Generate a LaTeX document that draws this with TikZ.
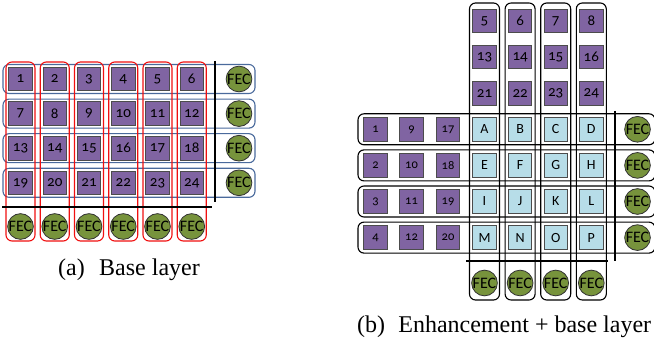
\documentclass[tikz,border=0pt]{standalone}
\usepackage{fontspec}
\setmainfont{Liberation Serif}
\newfontfamily\lblfont[Numbers=OldStyle]{Carlito}
\definecolor{pktpurple}{HTML}{8064A2}
\definecolor{pktaqua}{HTML}{B7DDE8}
\definecolor{fecgreen}{HTML}{77933C}
\definecolor{rowblue}{HTML}{4A6A9C}
\definecolor{colred}{HTML}{F01010}

\tikzset{
  pkt/.style={draw=black!70, line width=0.8pt, fill=pktpurple, minimum size=23.5pt,
              inner sep=0pt, font=\lblfont\fontsize{15}{15}\selectfont},
  pktsmall/.style={pkt, font=\lblfont\fontsize{12.5}{12.5}\selectfont},
  enh/.style={pkt, fill=pktaqua, font=\lblfont\fontsize{14}{14}\selectfont},
  fec/.style={circle, draw=black!80, line width=0.8pt, fill=fecgreen, minimum size=25pt,
              inner sep=0pt, font=\lblfont\fontsize{16}{16}\selectfont},
  rowframe/.style={draw=rowblue, line width=1.1pt, rounded corners=6pt, inner sep=0pt},
  colframe/.style={draw=colred, line width=1.1pt, rounded corners=6pt, inner sep=0pt},
  grpframe/.style={draw=black, line width=1.1pt, rounded corners=6pt, inner sep=0pt},
  sep/.style={line width=2pt},
  caption/.style={font=\fontsize{24}{24}\selectfont, inner sep=0pt}
}

\begin{document}
\begin{tikzpicture}[x=1pt,y=-1pt]
\useasboundingbox (0,0) rectangle (654,342);

% ---------------- base layer ----------------
% row FEC groups
\foreach \j in {0,...,3}
  \node[rowframe, minimum width=252pt, minimum height=29pt] (brow\j) at (129,{79+34.6*\j}) {};
% column FEC groups
\foreach \i in {0,...,5}
  \node[colframe, minimum width=29pt, minimum height=179pt] (bcol\i) at ({20.5+34.25*\i},151.5) {};
% source packets 1..24
\foreach \j in {0,...,3}
  \foreach \i in {0,...,5} {
    \pgfmathtruncatemacro{\n}{6*\j+\i+1}
    \node[pkt] (b\n) at ({20.5+34.25*\i},{79+34.6*\j}) {\n};
  }
% parity packets
\foreach \j in {0,...,3}
  \node[fec] (bfr\j) at (239,{79+34.6*\j}) {FEC};
\foreach \i in {0,...,5}
  \node[fec] (bfc\i) at ({20.5+34.25*\i},226.5) {FEC};
% separators
\coordinate (bvt) at (215,61);
\coordinate (bvb) at (215,202);
\coordinate (bhl) at (2,207);
\coordinate (bhr) at (212,207);
\draw[sep] (bvt) -- (bvb);
\draw[sep] (bhl) -- (bhr);

\node[caption, anchor=base west] (capa) at (58,276) {(a)\hspace{0.35em} Base layer};

% ---------------- enhancement + base layer ----------------
% column groups (enhancement)
\foreach \k in {0,...,3}
  \node[grpframe, minimum width=30pt, minimum height=297pt] (ecol\k) at ({484.5+35.6*\k},151.5) {};
% row groups
\foreach \m in {3,...,6}
  \node[grpframe, minimum width=297pt, minimum height=31pt] (erow\m) at (506.5,{21+36.1*\m}) {};
% base packets stacked above the columns
\foreach \m in {0,1,2}
  \foreach \k in {0,...,3} {
    \pgfmathtruncatemacro{\n}{8*\m+\k+5}
    \node[pkt] (t\n) at ({484.5+35.6*\k},{21+36.1*\m}) {\n};
  }
% base packets at the left of the rows
\foreach \m in {0,...,3}
  \foreach \c/\xx in {0/375.5,1/411.5,2/448} {
    \pgfmathtruncatemacro{\n}{8*\c+\m+1}
    \node[pktsmall] (l\n) at (\xx,{21+36.1*(\m+3)}) {\n};
  }
% enhancement packets A..P
\foreach \m in {0,...,3}
  \foreach \k in {0,...,3} {
    \pgfmathtruncatemacro{\n}{4*\m+\k+1}
    \node[enh] (e\n) at ({484.5+35.6*\k},{21+36.1*(\m+3)}) {\symbol{\numexpr64+\n\relax}};
  }
% parity packets
\foreach \m in {3,...,6}
  \node[fec] (efr\m) at (637.5,{21+36.1*\m}) {FEC};
\foreach \k in {0,...,3}
  \node[fec] (efc\k) at ({484.5+35.6*\k},283) {FEC};
% separators
\coordinate (evt) at (614.5,111);
\coordinate (evb) at (614.5,261);
\coordinate (ehl) at (466,261);
\coordinate (ehr) at (608,261);
\draw[sep] (evt) -- (evb);
\draw[sep] (ehl) -- (ehr);

\node[caption, anchor=base west] (capb) at (357,332) {(b)\hspace{0.3em} Enhancement + base layer};
\end{tikzpicture}
\end{document}
